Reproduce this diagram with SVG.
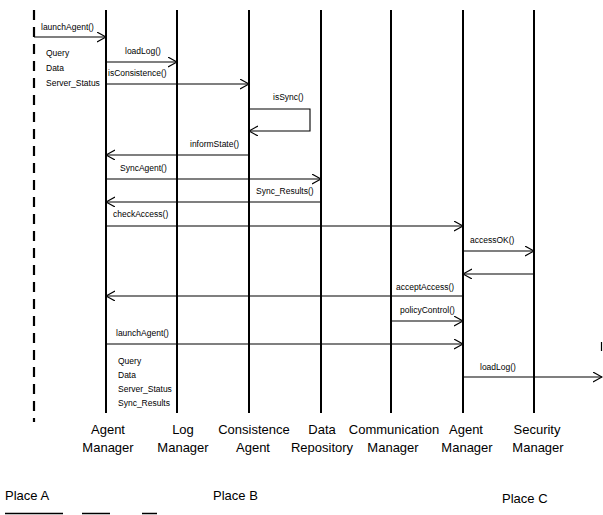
<svg xmlns="http://www.w3.org/2000/svg" width="603" height="515" viewBox="0 0 603 515">
<style>
.bg{fill:#fff}
.life{stroke:#000;stroke-width:2;fill:none}
.dash{stroke:#000;stroke-width:2.2;stroke-dasharray:10 7;fill:none}
.msg{stroke:#000;stroke-width:1.1;fill:none;marker-end:url(#ah)}
.lbl{font-family:"Liberation Sans",Arial,sans-serif;font-size:8.5px;fill:#000}
.col{font-family:"Liberation Sans",Arial,sans-serif;font-size:13px;fill:#000;text-anchor:middle}
.place{font-family:"Liberation Sans",Arial,sans-serif;font-size:13px;fill:#000}
.base{stroke:#000;stroke-width:1.5}
</style>
<defs>
<marker id="ah" markerUnits="userSpaceOnUse" markerWidth="12" markerHeight="12" refX="9" refY="5" orient="auto">
<path d="M0,0 L9,5 L0,10" fill="none" stroke="#000" stroke-width="1.1"/>
</marker>
</defs>
<rect class="bg" x="0" y="0" width="603" height="515"/>

<g id="place-a-boundary">
<line class="dash" x1="34" y1="10" x2="34" y2="422"/>
</g>

<g id="agent-manager-a">
<line class="life" x1="106" y1="10" x2="106" y2="413"/>
<text class="col" x="108" y="434">Agent</text>
<text class="col" x="108" y="452">Manager</text>
</g>
<g id="log-manager">
<line class="life" x1="177" y1="10" x2="177" y2="413"/>
<text class="col" x="183" y="434">Log</text>
<text class="col" x="183" y="452">Manager</text>
</g>
<g id="consistence-agent">
<line class="life" x1="249" y1="10" x2="249" y2="413"/>
<text class="col" x="254" y="434">Consistence</text>
<text class="col" x="253" y="452">Agent</text>
</g>
<g id="data-repository">
<line class="life" x1="321" y1="10" x2="321" y2="413"/>
<text class="col" x="322" y="434">Data</text>
<text class="col" x="322" y="452">Repository</text>
</g>
<g id="communication-manager">
<line class="life" x1="391" y1="10" x2="391" y2="413"/>
<text class="col" x="394" y="434">Communication</text>
<text class="col" x="393" y="452">Manager</text>
</g>
<g id="agent-manager-c">
<line class="life" x1="463" y1="10" x2="463" y2="413"/>
<text class="col" x="466" y="434">Agent</text>
<text class="col" x="467" y="452">Manager</text>
</g>
<g id="security-manager">
<line class="life" x1="534" y1="10" x2="534" y2="413"/>
<text class="col" x="537" y="434">Security</text>
<text class="col" x="538" y="452">Manager</text>
</g>

<g id="connectors">
<line class="msg" x1="34" y1="37" x2="106" y2="37"/>
<line class="msg" x1="106" y1="62" x2="177" y2="62"/>
<line class="msg" x1="106" y1="84" x2="249" y2="84"/>
<path class="msg" d="M249,109 H310 V131 H249"/>
<line class="msg" x1="249" y1="155" x2="106" y2="155"/>
<line class="msg" x1="106" y1="179" x2="321" y2="179"/>
<line class="msg" x1="321" y1="202" x2="106" y2="202"/>
<line class="msg" x1="106" y1="226" x2="463" y2="226"/>
<line class="msg" x1="463" y1="251" x2="534" y2="251"/>
<line class="msg" x1="534" y1="274" x2="463" y2="274"/>
<line class="msg" x1="463" y1="296" x2="106" y2="296"/>
<line class="msg" x1="391" y1="321" x2="463" y2="321"/>
<line class="msg" x1="106" y1="344" x2="463" y2="344"/>
<line class="msg" x1="463" y1="377" x2="602" y2="377"/>
<line stroke="#000" stroke-width="1.2" x1="601.5" y1="342" x2="601.5" y2="351"/>
</g>

<g id="labels">
<text class="lbl" x="41" y="30">launchAgent()</text>
<text class="lbl" x="46" y="56">Query</text>
<text class="lbl" x="46" y="71">Data</text>
<text class="lbl" x="46" y="86">Server_Status</text>
<text class="lbl" x="125" y="54">loadLog()</text>
<text class="lbl" x="108" y="76">isConsistence()</text>
<text class="lbl" x="273" y="100">isSync()</text>
<text class="lbl" x="190" y="147">informState()</text>
<text class="lbl" x="120" y="171">SyncAgent()</text>
<text class="lbl" x="256" y="194">Sync_Results()</text>
<text class="lbl" x="113" y="217">checkAccess()</text>
<text class="lbl" x="470" y="243">accessOK()</text>
<text class="lbl" x="396" y="290">acceptAccess()</text>
<text class="lbl" x="400" y="313">policyControl()</text>
<text class="lbl" x="116" y="336">launchAgent()</text>
<text class="lbl" x="118" y="364">Query</text>
<text class="lbl" x="118" y="378">Data</text>
<text class="lbl" x="118" y="392">Server_Status</text>
<text class="lbl" x="118" y="406">Sync_Results</text>
<text class="lbl" x="480" y="370">loadLog()</text>
</g>

<g id="places">
<text class="place" x="5" y="500">Place A</text>
<text class="place" x="213" y="500">Place B</text>
<text class="place" x="502" y="503">Place C</text>
<line class="base" x1="5" y1="513.5" x2="63" y2="513.5"/>
<line class="base" x1="82" y1="513.5" x2="110" y2="513.5"/>
<line class="base" x1="142" y1="513.5" x2="157" y2="513.5"/>
</g>
</svg>
